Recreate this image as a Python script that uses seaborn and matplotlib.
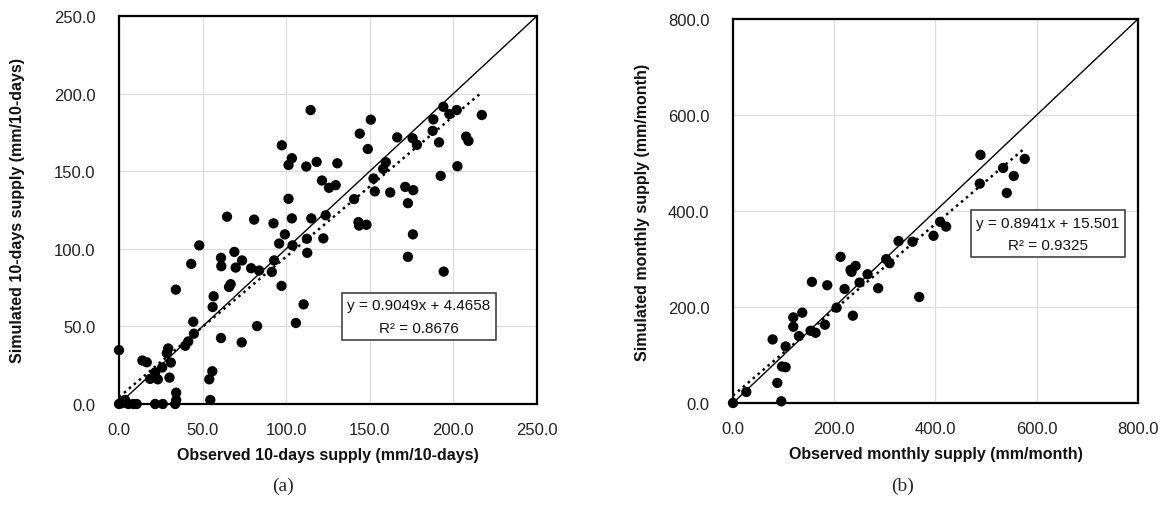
import seaborn as sns
import matplotlib.pyplot as plt
import numpy as np
import pandas as pd

# (a) 10-days supply: observed vs simulated (mm/10-days)
obs_10d = [0, 1.6, 3.6, 5.6, 8.6, 10.6, 2.5, 0,
           14, 16.6, 29.4, 28.6, 31, 25.8, 21.6, 18.6, 23.2, 30.2, 21.6, 26.2, 33.6, 34.2, 34.2,
           55.8, 54, 54.6,
           34, 39.6, 41.4, 44.8, 44.4, 43.2, 48,
           56.6, 56, 61, 73.4, 82.6, 65.8, 66.8, 61, 61.2, 69, 69.8, 73.6, 79, 83.8, 91.4, 92.8,
           97.2, 95.8, 99.2, 103.8, 105.8, 110.4, 112.4, 112.6, 122.2,
           64.6, 80.8, 92.4, 103.4, 115, 123.6, 143.2, 143.6, 148, 175.8, 172.8, 194.2,
           101.4, 140.6, 172.8,
           97.4, 103.4, 101.4, 112, 118.2, 130.6, 159.6, 158, 121.4, 125.6, 129.6, 152.2, 153,
           162.2, 171.2, 176,
           114.6, 150.6, 194, 197.6, 202, 217, 188, 187.6, 191.4, 207.6, 209, 202.4, 192.4,
           175.6, 178.2, 166.4, 144, 148.8]
sim_10d = [0, 0.5, 2.6, 0, 0, 0, 1, 34.7,
           28, 26.9, 35.8, 32.8, 26.7, 23.5, 20.3, 16.2, 15.9, 17, 0, 0, 0, 2.6, 7.3,
           21.1, 15.9, 2.6,
           73.7, 37.5, 40.3, 45.3, 53, 90.3, 102.2,
           69.4, 62.5, 42.5, 39.7, 50.2, 75.4, 77.2, 94.2, 88.8, 98, 87.9, 92.5, 87.5, 86, 85.1, 92.5,
           76.1, 103.4, 109.3, 102.2, 52.2, 64.2, 106.5, 97.4, 106.7,
           120.7, 118.8, 116.4, 119.6, 119.6, 121.6, 117.2, 115, 115.5, 109.3, 94.8, 85.3,
           132.2, 132, 129.4,
           166.7, 158.4, 154, 153, 156, 155.1, 155.8, 151.5, 144, 139.3, 141, 145.3, 137,
           136.3, 139.9, 137.8,
           189.4, 183.2, 191.5, 186.8, 189.4, 186.2, 183.4, 176, 168.6, 172.3, 169.5, 153.2, 147,
           171.2, 167, 171.8, 174.2, 164.3]

# (b) monthly supply: observed vs simulated (mm/month)
obs_mon = [0, 26.3, 95.4, 87.5, 96.7, 103.9, 78.3, 103.9, 130.3, 119.1, 119.1, 136.8, 153.3,
           163.2, 181.6, 155.9, 186.2, 204.6, 220.4, 236.8, 212.5, 232.2, 234.2, 242.1, 250,
           265.8, 286.8, 302.6, 309.2, 327, 354.6, 367.8, 396, 409.2, 421, 487.5, 488.8,
           533.6, 540.8, 554.6, 576.3]
sim_mon = [0, 23, 3.5, 41.8, 76, 74.6, 132.4, 117.8, 139.4, 158.9, 178.4, 188.2, 150.5,
           146.3, 163.1, 252.3, 245.3, 198.6, 237.6, 181.9, 304.5, 277.4, 273.2, 285.7, 250.9,
           268.3, 239, 299.7, 291.3, 337.3, 336, 220.9, 348.4, 377.5, 367.5, 457, 516.9,
           489.7, 437.6, 473, 508.5]

# linear trend lines (slope, intercept, R2) as printed in the chart
fit_10d = (0.9049, 4.4658, 0.8676)
fit_mon = (0.8941, 15.501, 0.9325)

sns.set_style('whitegrid', {'grid.color': '#dcdcdc', 'axes.edgecolor': 'black'})
plt.rcParams['font.family'] = ['Liberation Sans', 'DejaVu Sans']

fig = plt.figure(figsize=(11.65, 5.06), dpi=100)
ax1 = fig.add_axes([119 / 1165, 101 / 506, 418 / 1165, 388 / 506])
ax2 = fig.add_axes([733 / 1165, 102 / 506, 405 / 1165, 384 / 506])

panels = [
    (ax1, obs_10d, sim_10d, fit_10d, 250, 50,
     'Observed 10-days supply (mm/10-days)', 'Simulated 10-days supply (mm/10-days)',
     (0.718, 0.2255), -0.225),
    (ax2, obs_mon, sim_mon, fit_mon, 800, 200,
     'Observed monthly supply (mm/month)', 'Simulated monthly supply (mm/month)',
     (0.778, 0.441), -0.205),
]

for ax, xs, ys, fit, lim, step, xlab, ylab, boxpos, ylab_x in panels:
    df = pd.DataFrame({'obs': xs, 'sim': ys})
    ax.plot([0, lim], [0, lim], color='black', lw=1.0, zorder=2)
    xr = np.array([0, max(xs)])
    ax.plot(xr, fit[0] * xr + fit[1], color='black', lw=1.8, ls=(0, (1, 1.6)), zorder=2)
    sns.scatterplot(data=df, x='obs', y='sim', ax=ax, color='black', s=55,
                    edgecolor='none', zorder=3, clip_on=False)
    ax.set_xlim(0, lim)
    ax.set_ylim(0, lim)
    ticks = np.arange(0, lim + 1, step)
    ax.set_xticks(ticks)
    ax.set_yticks(ticks)
    ax.set_xticklabels([f'{t:.1f}' for t in ticks])
    ax.set_yticklabels([f'{t:.1f}' for t in ticks])
    ax.tick_params(axis='both', length=0, labelsize=12, labelcolor='#222222')
    ax.tick_params(axis='x', pad=13)
    ax.tick_params(axis='y', pad=17)
    ax.set_xlabel(xlab, fontsize=11.5, fontweight='bold', color='#111111')
    ax.set_ylabel(ylab, fontsize=11.5, fontweight='bold', color='#111111')
    ax.xaxis.set_label_coords(0.5, -0.112)
    ax.yaxis.set_label_coords(ylab_x, 0.5)
    for sp in ax.spines.values():
        sp.set_color('black')
        sp.set_linewidth(1.6)
    ax.grid(True, color='#dcdcdc', lw=0.9)
    ax.text(boxpos[0], boxpos[1],
            f'y = {fit[0]:.4f}x + {fit[1]:g}\nR² = {fit[2]:.4f}',
            transform=ax.transAxes, ha='center', va='center', fontsize=11,
            linespacing=1.75, color='#111111',
            bbox=dict(boxstyle='square,pad=0.35', fc='white', ec='#333333', lw=1.1))

fig.text(283 / 1165, 1 - 486 / 506, '(a)', family=['Liberation Serif', 'DejaVu Serif'],
         fontsize=14, ha='center', va='center')
fig.text(903 / 1165, 1 - 486 / 506, '(b)', family=['Liberation Serif', 'DejaVu Serif'],
         fontsize=14, ha='center', va='center')

fig.savefig('out.png', dpi=100, facecolor='white')
